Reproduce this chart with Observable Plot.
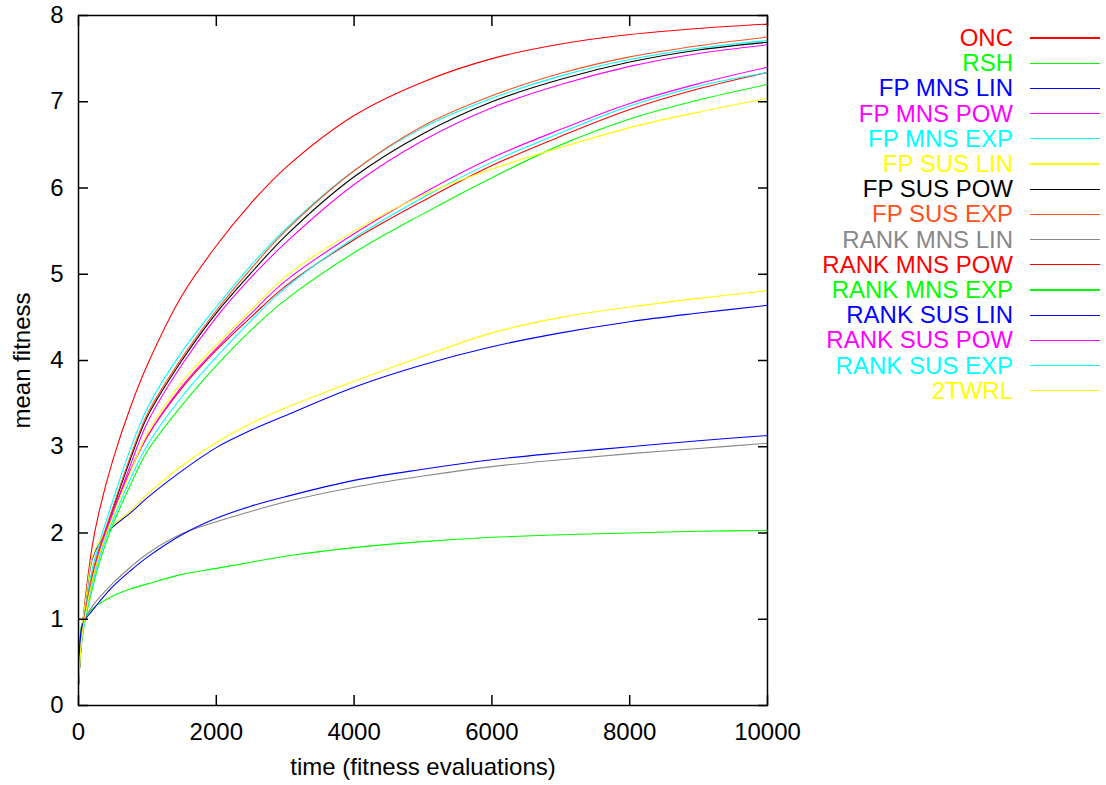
<!DOCTYPE html>
<html>
<head>
<meta charset="utf-8">
<script src="https://cdn.jsdelivr.net/npm/d3@7"></script>
<script src="https://cdn.jsdelivr.net/npm/@observablehq/plot@0.6"></script>
<style>
  body { margin: 0; background: #fff; }
  #wrap { position: relative; width: 1106px; height: 785px; font-family: "Liberation Sans", Arial, sans-serif; }
  .ltext { position: absolute; font-size: 24px; line-height: 28px; text-align: right; white-space: nowrap; }
  .lline { position: absolute; height: 1.2px; }
</style>
</head>
<body>
<div id="wrap"></div>
<script>
// ---- data ----
const times = [0, 50, 100, 200, 300, 500, 750, 1000, 1500, 2000, 2500, 3000, 4000, 5000, 6000, 7000, 8000, 9000, 10000];

const seriesNames = ["ONC", "RSH", "FP MNS LIN", "FP MNS POW", "FP MNS EXP", "FP SUS LIN", "FP SUS POW", "FP SUS EXP",
  "RANK MNS LIN", "RANK MNS POW", "RANK MNS EXP", "RANK SUS LIN", "RANK SUS POW", "RANK SUS EXP", "2TWRL"];
const seriesColors = ["#ff0000", "#00ff00", "#0000ff", "#ff00ff", "#00ffff", "#ffff00", "#000000", "#ff5020",
  "#888888", "#ff0000", "#00ff00", "#0000ff", "#ff00ff", "#00ffff", "#ffff00"];

const onc        = [0.23, 0.85, 1.25, 1.85, 2.25, 2.85, 3.45, 3.95, 4.75, 5.33, 5.82, 6.23, 6.84, 7.23, 7.50, 7.67, 7.78, 7.85, 7.90];
const rsh        = [0.25, 0.95, 1.02, 1.12, 1.18, 1.27, 1.35, 1.41, 1.52, 1.59, 1.66, 1.73, 1.83, 1.90, 1.95, 1.98, 2.00, 2.02, 2.03];
const fpMnsLin   = [0.25, 0.88, 1.18, 1.70, 1.88, 2.07, 2.23, 2.41, 2.72, 2.99, 3.19, 3.36, 3.69, 3.95, 4.16, 4.32, 4.45, 4.55, 4.64];
const fpMnsPow   = [0.25, 0.80, 1.05, 1.45, 1.75, 2.22, 2.78, 3.28, 3.95, 4.50, 4.96, 5.36, 6.04, 6.55, 6.93, 7.20, 7.41, 7.56, 7.66];
const fpMnsExp   = [0.25, 0.82, 1.12, 1.58, 1.88, 2.38, 2.97, 3.45, 4.10, 4.62, 5.10, 5.52, 6.20, 6.70, 7.04, 7.30, 7.49, 7.62, 7.71];
const fpSusLin   = [0.25, 0.90, 1.20, 1.72, 1.90, 2.09, 2.25, 2.45, 2.78, 3.05, 3.27, 3.45, 3.76, 4.05, 4.32, 4.50, 4.62, 4.72, 4.81];
const fpSusPow   = [0.25, 0.80, 1.08, 1.50, 1.80, 2.28, 2.85, 3.35, 4.00, 4.55, 5.01, 5.44, 6.13, 6.63, 7.00, 7.26, 7.46, 7.60, 7.69];
const fpSusExp   = [0.25, 0.80, 1.08, 1.52, 1.82, 2.30, 2.88, 3.38, 4.03, 4.58, 5.06, 5.50, 6.20, 6.72, 7.07, 7.33, 7.52, 7.65, 7.75];
const rankMnsLin = [0.25, 0.92, 1.02, 1.15, 1.25, 1.42, 1.60, 1.76, 1.99, 2.13, 2.25, 2.36, 2.53, 2.66, 2.77, 2.85, 2.92, 2.98, 3.04];
const rankMnsPow = [0.25, 0.80, 1.05, 1.45, 1.78, 2.25, 2.72, 3.12, 3.68, 4.12, 4.50, 4.86, 5.40, 5.85, 6.26, 6.60, 6.91, 7.15, 7.34];
const rankMnsExp = [0.25, 0.75, 1.00, 1.35, 1.65, 2.10, 2.55, 2.95, 3.48, 3.94, 4.35, 4.70, 5.25, 5.70, 6.12, 6.50, 6.80, 7.02, 7.20];
const rankSusLin = [0.25, 0.92, 1.00, 1.10, 1.20, 1.38, 1.56, 1.72, 1.98, 2.17, 2.31, 2.42, 2.61, 2.74, 2.85, 2.93, 3.00, 3.07, 3.13];
const rankSusPow = [0.25, 0.80, 1.05, 1.45, 1.78, 2.25, 2.72, 3.12, 3.70, 4.14, 4.54, 4.92, 5.47, 5.94, 6.35, 6.68, 6.98, 7.21, 7.40];
const rankSusExp = [0.25, 0.78, 1.02, 1.40, 1.70, 2.15, 2.62, 3.02, 3.58, 4.04, 4.46, 4.84, 5.42, 5.89, 6.30, 6.64, 6.95, 7.18, 7.34];
const twrl2      = [0.25, 0.80, 1.05, 1.45, 1.75, 2.20, 2.70, 3.15, 3.75, 4.18, 4.58, 4.97, 5.50, 5.92, 6.22, 6.47, 6.70, 6.88, 7.04];

const seriesValues = [onc, rsh, fpMnsLin, fpMnsPow, fpMnsExp, fpSusLin, fpSusPow, fpSusExp,
  rankMnsLin, rankMnsPow, rankMnsExp, rankSusLin, rankSusPow, rankSusExp, twrl2];

const xTicks = [0, 2000, 4000, 6000, 8000, 10000];
const yTicks = [0, 1, 2, 3, 4, 5, 6, 7, 8];
const xLabel = "time (fitness evaluations)";
const yLabel = "mean fitness";

// ---- build ----
const rows = seriesNames.flatMap((name, s) => times.map((t, i) => ({series: name, time: t, value: seriesValues[s][i]})));

const font = "'Liberation Sans', Arial, sans-serif";
const chart = Plot.plot({
  width: 1106,
  height: 785,
  marginLeft: 78,
  marginRight: 339,
  marginTop: 15,
  marginBottom: 80,
  style: {fontFamily: font, fontSize: "24px", color: "#000", background: "#fff", overflow: "visible"},
  x: {domain: [0, 10000]},
  y: {domain: [0, 8]},
  color: {domain: seriesNames, range: seriesColors},
  marks: [
    Plot.line(rows, {x: "time", y: "value", z: "series", stroke: "series", strokeWidth: 1.1, curve: "catmull-rom"}),
    Plot.frame({stroke: "#000", strokeWidth: 1.5}),
    Plot.axisX(xTicks, {anchor: "bottom", tickSize: -10, tickPadding: 27, strokeWidth: 1.5, tickFormat: "d", label: null, fontSize: 24}),
    Plot.axisX(xTicks, {anchor: "top", tickSize: -10, strokeWidth: 1.5, fill: "none", label: null}),
    Plot.axisY(yTicks, {anchor: "left", tickSize: -10, tickPadding: 25, strokeWidth: 1.5, tickFormat: "d", label: null, fontSize: 24}),
    Plot.axisY(yTicks, {anchor: "right", tickSize: -10, strokeWidth: 1.5, fill: "none", label: null}),
    Plot.text([xLabel], {frameAnchor: "bottom", dy: 62, textAnchor: "middle", lineAnchor: "middle", text: d => d, fontSize: 24, fill: "#000"}),
    Plot.text([yLabel], {frameAnchor: "left", dx: -56, rotate: -90, textAnchor: "middle", lineAnchor: "middle", text: d => d, fontSize: 24, fill: "#000"})
  ]
});

const wrap = document.getElementById("wrap");
wrap.appendChild(chart);

// ---- legend ----
const legendTop = 38, legendStep = 25.2, textRight = 1013, lineLeft = 1030, lineWidth = 70;
seriesNames.forEach((name, i) => {
  const cy = legendTop + i * legendStep;
  const t = document.createElement("div");
  t.className = "ltext";
  t.textContent = name;
  t.style.color = seriesColors[i];
  t.style.right = (1106 - textRight) + "px";
  t.style.top = (cy - 14) + "px";
  wrap.appendChild(t);
  const l = document.createElement("div");
  l.className = "lline";
  l.style.background = seriesColors[i];
  l.style.left = lineLeft + "px";
  l.style.width = lineWidth + "px";
  l.style.top = (cy - 0.6) + "px";
  wrap.appendChild(l);
});
</script>
</body>
</html>
